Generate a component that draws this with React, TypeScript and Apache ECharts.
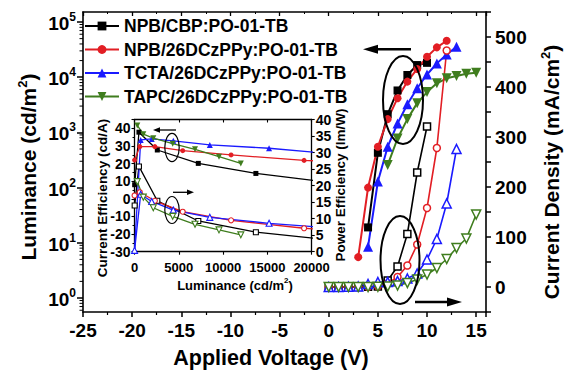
import React, { useEffect, useRef } from "react";
import * as echarts from "echarts";

const FF = '"Liberation Sans", Arial, Helvetica, sans-serif';

const seriesNames = [
  "NPB/CBP:PO-01-TB",
  "NPB/26DCzPPy:PO-01-TB",
  "TCTA/26DCzPPy:PO-01-TB",
  "TAPC/26DCzPPy:PO-01-TB",
];
const colors = ["#000000", "#e21e24", "#1a1aff", "#3f7d1e"];
const symbols = ["rect", "circle", "triangle", "triangle"];
const symbolRot = [0, 0, 0, 180];

// ---- main plot: luminance (cd/m2) vs voltage (V)
const lumVolt0 = [4, 5, 6, 7, 8, 9, 10];
const lum0 = [19, 427, 2140, 5750, 10960, 16600, 18200];
const lumVolt1 = [3, 4, 5, 6, 7, 8, 9, 10, 11, 12];
const lum1 = [5.5, 100, 550, 1740, 4170, 8320, 14100, 23400, 34700, 45700];
const lumVolt2 = [4, 5, 6, 7, 8, 9, 10, 11, 12, 13];
const lum2 = [8.5, 129, 550, 1450, 3240, 6310, 11200, 17800, 25700, 35500];
const lumVolt3 = [6, 7, 8, 9, 10, 11, 12, 13, 14, 15];
const lum3 = [257, 776, 1740, 3390, 5370, 7760, 9550, 10500, 11500, 12000];

// ---- main plot: current density (mA/cm2) vs voltage (V)
const jVolt0 = [0, 1, 2, 3, 4, 5, 6, 7, 8, 9, 10];
const j0 = [0, 0, 0, 0, 0.3, 1, 13, 41, 106, 229, 321];
const jVolt1 = [0, 1, 2, 3, 4, 5, 6, 7, 8, 9, 10, 11, 12];
const j1 = [0, 0, 0, 0, 0.3, 1.5, 7, 20, 43, 85, 158, 278, 473];
const jVolt2 = [0, 1, 2, 3, 4, 5, 6, 7, 8, 9, 10, 11, 12, 13];
const j2 = [0, 0, 0.5, 1, 6, 10, 10, 12, 17, 27, 55, 96, 167, 276];
const jVolt3 = [0, 1, 2, 3, 4, 5, 6, 7, 8, 9, 10, 11, 12, 13, 14, 15];
const j3 = [0, 0, 0, 0, 0, 0.5, 1, 3, 8, 15, 25, 38, 56, 78, 97, 145];

// ---- inset: efficiencies vs luminance
const effLum0 = [19, 500, 2575, 7200, 13700, 21000];
const ce0 = [8, 37.8, 27.7, 20.1, 14.4, 10.0];
const pe0 = [14, 25.8, 15.4, 9.3, 5.9, 3.9];
const effLum1 = [6, 600, 2300, 5440, 10900, 19140, 23400];
const ce1 = [22, 29.6, 29.6, 27.3, 24.9, 21.8, 21.0];
const pe1 = [17, 18.0, 15.4, 12.1, 9.5, 7.1, 6.3];
const effLum2 = [9, 700, 1940, 4380, 8500, 15190, 25700];
const ce2 = [-29, 33.4, 34, 32.9, 30.6, 28.7, 23.9];
const pe2 = [0.4, 17.4, 15.2, 12.6, 10.4, 8.6, 6.4];
const effLum3 = [316, 994, 2120, 4310, 6830, 9540, 12000];
const ce3 = [41.6, 36.7, 34.4, 31.3, 28.1, 23.9, 20.1];
const pe3 = [21.2, 16.5, 13.3, 10.7, 8.3, 6.6, 5.1];

const lumVolts = [lumVolt0, lumVolt1, lumVolt2, lumVolt3];
const lums = [lum0, lum1, lum2, lum3];
const jVolts = [jVolt0, jVolt1, jVolt2, jVolt3];
const js = [j0, j1, j2, j3];
const effLums = [effLum0, effLum1, effLum2, effLum3];
const ces = [ce0, ce1, ce2, ce3];
const pes = [pe0, pe1, pe2, pe3];

const zip = (xs: number[], ys: number[]) => xs.map((x, i) => [x, ys[i]]);

// log minor tick positions
const logMinor: number[] = [];
for (let e = -1; e <= 5; e++) {
  for (let m = 2; m <= 9; m++) {
    const v = m * Math.pow(10, e);
    if (v > 0.55 && v < 150000) logMinor.push(v);
  }
}

const black = "#000";
const lbl = (size: number) => ({
  color: black,
  fontSize: size,
  fontWeight: "bold" as const,
  fontFamily: FF,
});

function buildOption(): any {
  const series: any[] = [];
  for (let i = 0; i < 4; i++) {
    series.push({
      name: seriesNames[i],
      type: "line",
      xAxisIndex: 0,
      yAxisIndex: 0,
      data: zip(lumVolts[i], lums[i]),
      symbol: symbols[i],
      symbolSize: i >= 2 ? 10 : 8,
      symbolRotate: symbolRot[i],
      lineStyle: { color: colors[i], width: 2 },
      itemStyle: { color: colors[i] },
      z: 3,
    });
  }
  for (let i = 0; i < 4; i++) {
    series.push({
      name: "J " + seriesNames[i],
      type: "line",
      xAxisIndex: 1,
      yAxisIndex: 2,
      data: zip(jVolts[i], js[i]),
      symbol: symbols[i],
      symbolSize: i >= 2 ? 9 : 7,
      symbolRotate: symbolRot[i],
      lineStyle: { color: colors[i], width: 1.6 },
      itemStyle: { color: "#fff", borderColor: colors[i], borderWidth: 1.5 },
      z: 3,
    });
  }
  for (let i = 0; i < 4; i++) {
    series.push({
      name: "CE " + seriesNames[i],
      type: "line",
      xAxisIndex: 3,
      yAxisIndex: 3,
      data: zip(effLums[i], ces[i]),
      clip: true,
      symbol: symbols[i],
      symbolSize: i >= 2 ? 6 : 5,
      symbolRotate: symbolRot[i],
      lineStyle: { color: colors[i], width: 1.3 },
      itemStyle: { color: colors[i] },
      z: 4,
    });
    series.push({
      name: "PE " + seriesNames[i],
      type: "line",
      xAxisIndex: 3,
      yAxisIndex: 4,
      data: zip(effLums[i], pes[i]),
      clip: true,
      symbol: symbols[i],
      symbolSize: i >= 2 ? 6 : 5,
      symbolRotate: symbolRot[i],
      lineStyle: { color: colors[i], width: 1.3 },
      itemStyle: { color: "#fff", borderColor: colors[i], borderWidth: 1.1 },
      z: 4,
    });
  }
  series.push({
    type: "custom",
    name: "minor",
    xAxisIndex: 0,
    yAxisIndex: 0,
    data: logMinor.map((v) => [-25, v]),
    silent: true,
    renderItem: (params: any, api: any) => {
      const p = api.coord([-25, api.value(1)]);
      return {
        type: "line",
        shape: { x1: p[0] - 3.5, y1: p[1], x2: p[0], y2: p[1] },
        style: { stroke: black, lineWidth: 1 },
      };
    },
    z: 5,
  });

  const rt = (fs: number, ss: number) => ({
    n: { fontSize: fs, fontWeight: "bold", fontFamily: FF, fill: black, color: black, lineHeight: fs + 2, verticalAlign: "bottom" },
    s: { fontSize: ss, fontWeight: "bold", fontFamily: FF, fill: black, color: black, lineHeight: ss, verticalAlign: "top" },
  });

  const txt = (x: number, y: number, text: string, fs: number, ss: number, rot = 0) => ({
    type: "text",
    x,
    y,
    rotation: rot,
    z: 100,
    style: {
      text,
      rich: rt(fs, ss),
      align: "center",
      verticalAlign: "middle",
      fill: black,
    },
  });

  const ell = (cx: number, cy: number, rx: number, ry: number, lw: number) => ({
    type: "ellipse",
    shape: { cx, cy, rx, ry },
    style: { fill: "none", stroke: black, lineWidth: lw },
    z: 100,
  });
  const arrow = (x1: number, x2: number, y: number, hl: number, hw: number, lw: number) => {
    const dir = x2 > x1 ? 1 : -1;
    return [
      {
        type: "line",
        shape: { x1, y1: y, x2: x2 - dir * hl * 0.8, y2: y },
        style: { stroke: black, lineWidth: lw },
        z: 100,
      },
      {
        type: "polygon",
        shape: { points: [[x2, y], [x2 - dir * hl, y - hw], [x2 - dir * hl, y + hw]] },
        style: { fill: black },
        z: 100,
      },
    ];
  };

  const graphic: any[] = [
    txt(27, 167, "{n|Luminance (cd/m}{s|2}{n|)}", 21, 13, Math.PI / 2),
    txt(550, 172, "{n|Current Density (mA/cm}{s|2}{n|)}", 21, 13, Math.PI / 2),
    txt(271, 357, "{n|Applied Voltage (V)}", 21.5, 13),
    txt(102, 198, "{n|Current Efficiency (cd/A)}", 13.5, 9, Math.PI / 2),
    txt(340, 185, "{n|Power Efficiency (lm/W)}", 13.5, 9, Math.PI / 2),
    txt(235, 284, "{n|Luminance (cd/m}{s|2}{n|)}", 13, 8),
    ell(403, 100, 20, 44, 2),
    ell(400, 260, 19.5, 44, 2),
    ell(172, 147.5, 7.2, 14.2, 1.2),
    ell(172, 210, 7.2, 13.5, 1.2),
    ...arrow(411, 363, 49.3, 15, 4.5, 2.5),
    ...arrow(415, 462, 302, 15, 4.5, 2.5),
    ...arrow(176, 153, 130, 7, 2.8, 1.3),
    ...arrow(173, 194, 192.3, 7, 2.8, 1.3),
  ];

  const noLine = { show: false };

  return {
    animation: false,
    backgroundColor: "#fff",
    textStyle: { fontFamily: FF },
    legend: {
      data: seriesNames,
      orient: "vertical",
      left: 84,
      top: 17,
      itemWidth: 34,
      itemHeight: 11,
      itemGap: 5.5,
      padding: 0,
      textStyle: { ...lbl(17.5), lineHeight: 17.5 },
      selectedMode: false,
    },
    grid: [
      { left: 83, width: 403, top: 22, height: 276 },
      { left: 83, width: 403, top: 12, height: 300 },
      { left: 134.5, width: 177.2, top: 119.5, height: 132.2 },
    ],
    xAxis: [
      { type: "value", gridIndex: 0, min: -25, max: 16, show: false },
      {
        type: "value",
        gridIndex: 1,
        min: -25,
        max: 16,
        interval: 5,
        position: "bottom",
        axisLine: { show: true, onZero: false, lineStyle: { color: black, width: 1.6 } },
        axisTick: { show: true, inside: false, length: 5, lineStyle: { color: black, width: 1.5 } },
        minorTick: { show: true, splitNumber: 2, length: 3, lineStyle: { color: black, width: 1.2 } },
        axisLabel: { ...lbl(19), margin: 9, showMaxLabel: false },
        splitLine: { show: false },
      },
      {
        type: "value",
        gridIndex: 1,
        min: -25,
        max: 16,
        interval: 5,
        position: "top",
        axisLine: { show: true, onZero: false, lineStyle: { color: black, width: 1.6 } },
        axisTick: { show: true, inside: true, length: 4, lineStyle: { color: black, width: 1.3 } },
        minorTick: { show: true, splitNumber: 2, length: 2, lineStyle: { color: black, width: 1 } },
        axisLabel: { show: false },
        splitLine: { show: false },
      },
      {
        type: "value",
        gridIndex: 2,
        min: 0,
        max: 20000,
        interval: 5000,
        position: "bottom",
        axisLine: { show: true, onZero: false, lineStyle: { color: black, width: 1.3 } },
        axisTick: { show: true, inside: false, length: 3, lineStyle: { color: black, width: 1.1 } },
        axisLabel: { ...lbl(13), margin: 9, formatter: (v: number) => String(v) },
        splitLine: { show: false },
      },
      {
        type: "value",
        gridIndex: 2,
        min: 0,
        max: 20000,
        interval: 5000,
        position: "top",
        axisLine: { show: true, onZero: false, lineStyle: { color: black, width: 1.3 } },
        axisTick: { show: true, inside: true, length: 3, lineStyle: { color: black, width: 1.1 } },
        axisLabel: { show: false },
        splitLine: { show: false },
      },
    ],
    yAxis: [
      {
        type: "log",
        gridIndex: 0,
        min: 1,
        max: 100000,
        logBase: 10,
        position: "left",
        axisLine: { show: false, onZero: false },
        axisTick: { show: true, inside: false, length: 6, lineStyle: { color: black, width: 1.5 } },
        axisLabel: {
          margin: 7,
          formatter: (v: number) => `{b|10}{s|${Math.round(Math.log10(v))}}`,
          rich: {
            b: { ...lbl(19), lineHeight: 22, verticalAlign: "bottom" },
            s: { ...lbl(12), lineHeight: 12, verticalAlign: "top" },
          },
        },
        splitLine: { show: false },
      },
      {
        type: "value",
        gridIndex: 1,
        min: 0,
        max: 1,
        position: "left",
        axisLine: { show: true, onZero: false, lineStyle: { color: black, width: 1.6 } },
        axisTick: noLine,
        axisLabel: noLine,
        splitLine: noLine,
      },
      {
        type: "value",
        gridIndex: 1,
        min: -50,
        max: 550,
        interval: 50,
        position: "right",
        axisLine: { show: true, onZero: false, lineStyle: { color: black, width: 1.6 } },
        axisTick: { show: true, inside: false, length: 5, lineStyle: { color: black, width: 1.5 } },
        axisLabel: {
          ...lbl(19),
          margin: 9,
          formatter: (v: number) => (v % 100 === 0 && v >= 0 && v <= 500 ? String(v) : ""),
        },
        splitLine: noLine,
      },
      {
        type: "value",
        gridIndex: 2,
        min: -30,
        max: 45,
        interval: 10,
        position: "left",
        axisLine: { show: true, onZero: false, lineStyle: { color: black, width: 1.3 } },
        axisTick: { show: true, inside: false, length: 3, lineStyle: { color: black, width: 1.1 } },
        minorTick: { show: true, splitNumber: 2, length: 2, lineStyle: { color: black, width: 1 } },
        axisLabel: { ...lbl(14), margin: 4, showMaxLabel: false },
        splitLine: noLine,
      },
      {
        type: "value",
        gridIndex: 2,
        min: 0,
        max: 40,
        interval: 5,
        position: "right",
        axisLine: { show: true, onZero: false, lineStyle: { color: black, width: 1.3 } },
        axisTick: { show: true, inside: false, length: 3, lineStyle: { color: black, width: 1.1 } },
        axisLabel: { ...lbl(14), margin: 4, lineHeight: 14 },
        splitLine: noLine,
      },
    ],
    series,
    graphic,
  };
}

export default function App() {
  const ref = useRef<HTMLDivElement>(null);
  useEffect(() => {
    if (!ref.current) return;
    const chart = echarts.init(ref.current, null, { renderer: "svg" });
    chart.setOption(buildOption());
    return () => chart.dispose();
  }, []);
  return (
    <div
      ref={ref}
      style={{ position: "fixed", left: 0, top: 0, width: 564, height: 371, background: "#fff" }}
    />
  );
}
